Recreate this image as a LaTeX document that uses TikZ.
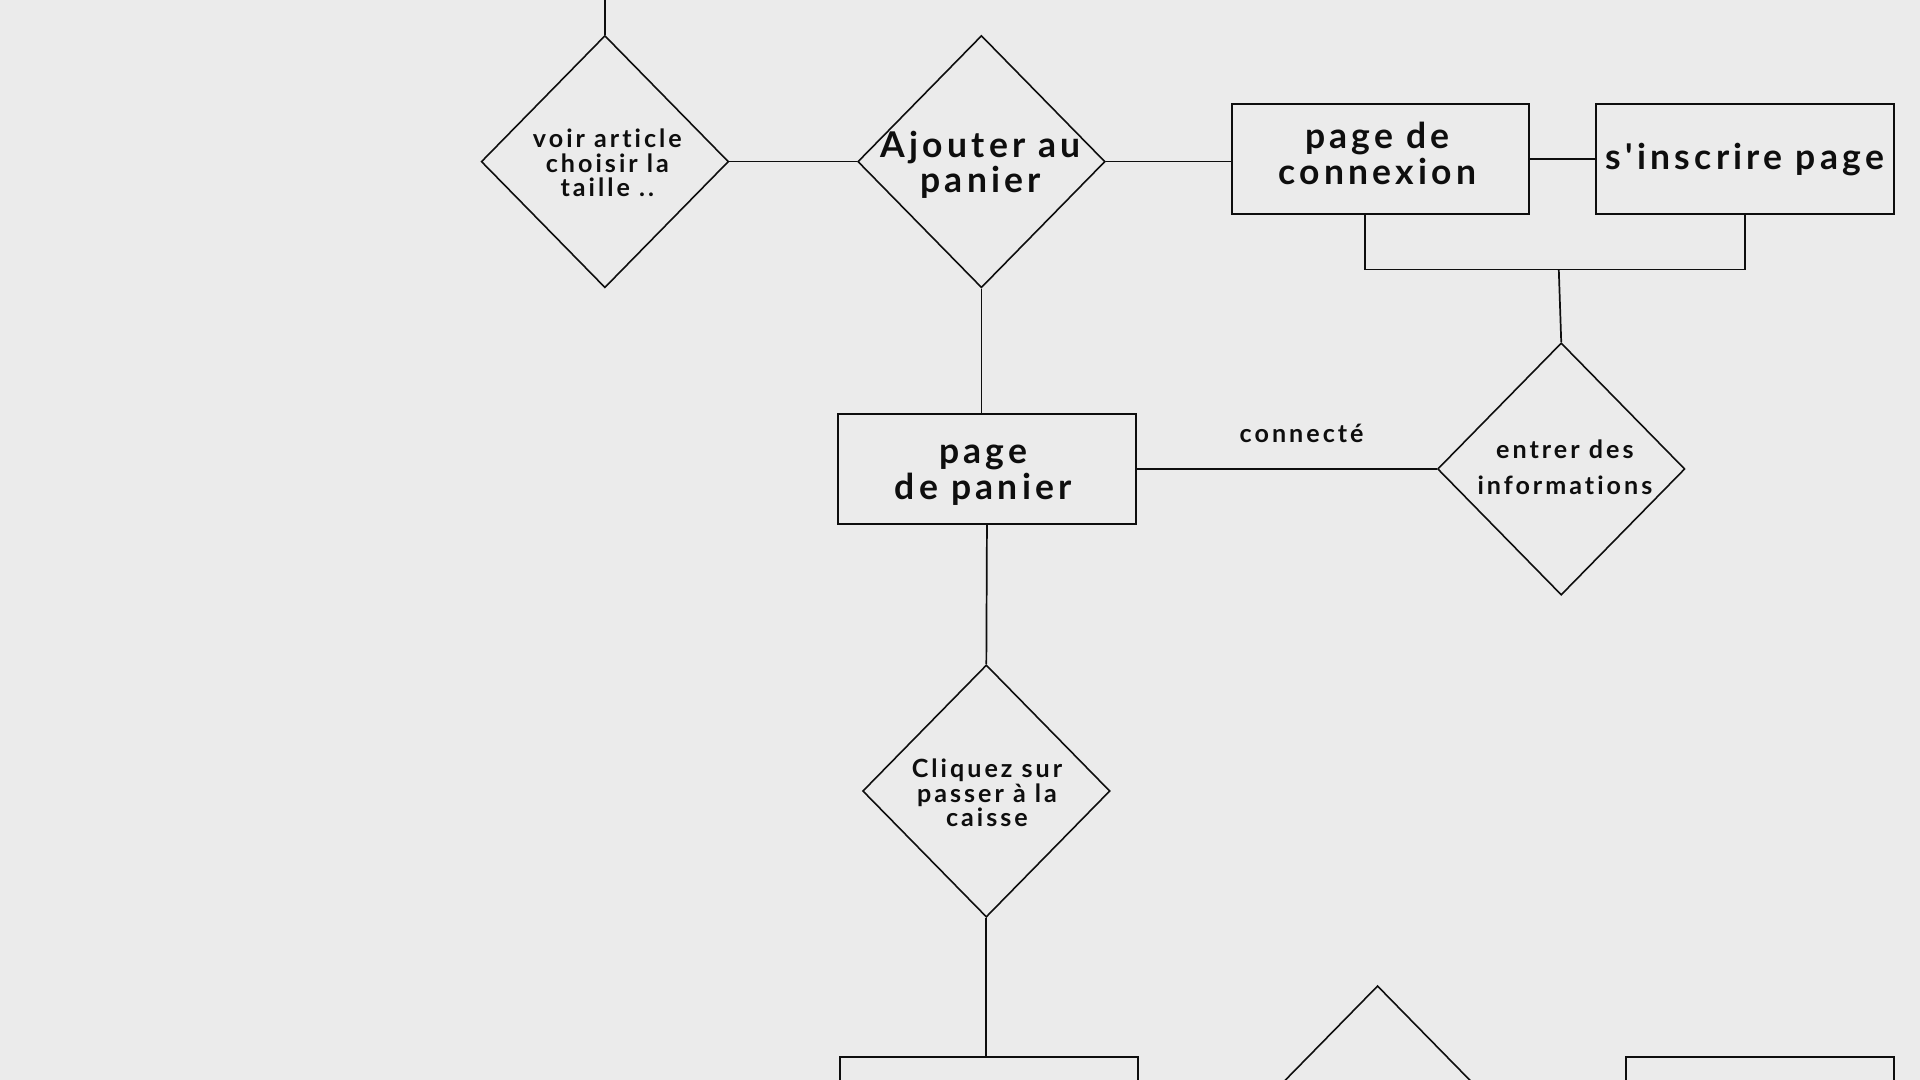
\documentclass[tikz,border=0pt]{standalone}
\usepackage{fontspec}
\setmainfont{Lato}[LetterSpace=12, Ligatures={NoCommon,TeXOff}]
\usetikzlibrary{shapes.geometric}
\definecolor{bgc}{HTML}{EBEBEB}
\definecolor{ink}{HTML}{0E0E0E}
\tikzset{
  box/.style={draw=ink, line width=1.6pt, minimum width=243pt, minimum height=90pt, inner sep=0pt},
  dia/.style={draw=ink, diamond, line width=1.3pt, minimum width=202pt, minimum height=206pt, inner sep=0pt},
  conn/.style={draw=ink, line width=1.4pt},
  bigtxt/.style={text=ink, align=center, inner sep=0pt, font=\bfseries\fontsize{29}{29}\selectfont},
  smalltxt/.style={text=ink, align=center, inner sep=0pt, font=\bfseries\fontsize{20.5}{20}\selectfont},
}
\begin{document}
\begin{tikzpicture}[x=1pt,y=-1pt]
\fill[bgc] (0,0) rectangle (1568,882);
\clip (0,0) rectangle (1568,882);
% shapes
\node[dia] (d1) at (494,132) {};
\node[dia] (d2) at (801.5,132) {};
\node[box] (b1) at (1127.5,130) {};
\node[box] (b2) at (1425,130) {};
\node[dia] (d3) at (1275,383) {};
\node[box] (b3) at (806,383) {};
\node[dia] (d4) at (805.5,646) {};
\node[box] (b4) at (807.5,908) {};
\node[dia] (d5) at (1125,908) {};
\node[box, minimum width=219pt] (b5) at (1437.5,908) {};
\coordinate (top) at (493,0);
\coordinate (bj) at (1273,220);
% connectors
\draw[conn] (d1.north) -- (d1.north |- top);
\draw[conn] (d1.east) -- (d2.west);
\draw[conn] (d2.east) -- (d2.east -| b1.west);
\draw[conn] (b1.east) -- (b2.west);
\draw[conn] ([xshift=-12.5pt]b1.south) |- (bj) -| (b2.south);
\draw[conn] (bj) -- (d3.north);
\draw[conn] (d2.south) -- (d2.south |- b3.north);
\draw[conn] (b3.east) -- (d3.west);
\draw[conn] (b3.south) -- (d4.north);
\draw[conn] (d4.south) -- (d4.south |- b4.north);
% texts
\node[smalltxt] (t1) at (496,133) {voir article\\choisir la\\taille ..};
\node[bigtxt] (t2) at (801,134.5) {Ajouter au\\panier};
\node[bigtxt] (t3) at (1125,125.5) {page de\\connexion};
\node[bigtxt] (t4) at (1425,130) {s'inscrire page};
\node[bigtxt] (t5) at (803,388) {page\\de panier};
\node[smalltxt, font=\bfseries\fontsize{20.5}{29}\selectfont] (t6) at (1278,381.5) {entrer des\\informations};
\node[smalltxt] (t7) at (806,647.5) {Cliquez sur\\passer à la\\caisse};
\node[smalltxt] (t8) at (1063,354) {connecté};
\end{tikzpicture}
\end{document}
